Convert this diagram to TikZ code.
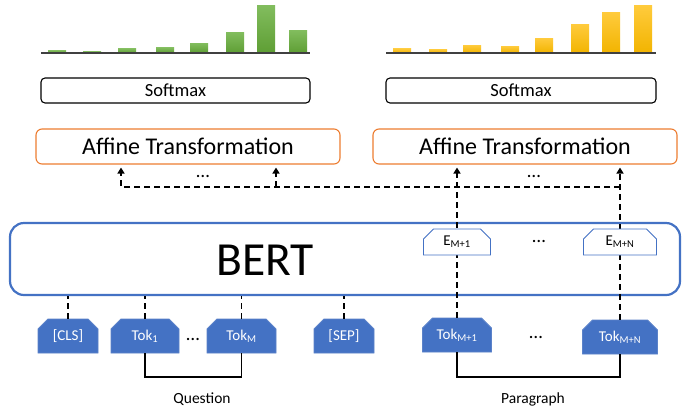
\documentclass[tikz,border=0pt]{standalone}
\usepackage{fontspec}
\setmainfont{Carlito}
\usetikzlibrary{shapes.misc,arrows.meta,calc}
\definecolor{tokblue}{HTML}{4472C4}
\definecolor{tokedge}{HTML}{5B82C9}
\definecolor{afforange}{HTML}{ED7D31}
\definecolor{gtop}{HTML}{82BD5E}
\definecolor{gbot}{HTML}{5E9E34}
\definecolor{ytop}{HTML}{FFCB3D}
\definecolor{ybot}{HTML}{F2B400}
\definecolor{axisgray}{HTML}{404040}
\tikzset{
  softbox/.style={draw=black, line width=1.1pt, rounded corners=4pt, minimum width=#1, minimum height=25pt, inner sep=0pt, font=\fontsize{18.5}{20}\selectfont},
  affbox/.style={draw=afforange, line width=1.1pt, rounded corners=6pt, minimum width=304pt, minimum height=35pt, inner sep=0pt, font=\fontsize{24}{26}\selectfont},
  bertbox/.style={draw=tokblue, line width=2.2pt, rounded corners=14pt, minimum width=670pt, minimum height=72pt, inner sep=0pt},
  ebox/.style={chamfered rectangle, chamfered rectangle corners={north east,north west}, chamfered rectangle xsep=5pt, chamfered rectangle ysep=5pt, draw=tokblue, fill=white, line width=0.9pt, minimum width=#1, minimum height=26pt, inner sep=0pt, font=\fontsize{15}{17}\selectfont},
  tokbox/.style={chamfered rectangle, chamfered rectangle corners={north east,north west}, chamfered rectangle xsep=5pt, chamfered rectangle ysep=5pt, draw=tokedge, fill=tokblue, line width=0.9pt, text=white, minimum width=#1, minimum height=34pt, inner sep=0pt, font=\fontsize{15}{17}\selectfont},
  dotsnode/.style={inner sep=0pt, font=\fontsize{19}{19}\selectfont},
  caption/.style={inner sep=0pt, font=\fontsize{15.5}{17}\selectfont},
  dashconn/.style={line width=1.5pt, dash pattern=on 6pt off 4pt},
  arrowconn/.style={dashconn, -{Triangle[width=7pt,length=6pt]}, shorten >=3pt},
  bracket/.style={line width=1.4pt, black},
  greenbar/.style={top color=gtop, bottom color=gbot, draw=none},
  yellowbar/.style={top color=ytop, bottom color=ybot, draw=none},
  axisline/.style={draw=axisgray, line width=1.4pt}
}
\begin{document}
\begin{tikzpicture}[x=1pt,y=-1pt]
\useasboundingbox[fill=white] (0,0) rectangle (682,408);

% bar charts
\foreach \x/\h in {48/2.8,83/2,118/4.5,156/5.5,190/10,226/21,257/48,289/23}
  \shade[greenbar] (\x,53) rectangle (\x+18,53-\h);
\draw[axisline] (41,53) -- (310,53);
\foreach \x/\h in {393/4.5,429/4,463/8,501/7,535/15,571/29,602/41,634/48}
  \shade[yellowbar] (\x,53) rectangle (\x+18,53-\h);
\draw[axisline] (386,53) -- (656,53);

% softmax and affine boxes
\node[softbox=269pt] (softL) at (175.5,90.5) {Softmax};
\node[softbox=270pt] (softR) at (521,90.5) {Softmax};
\node[affbox] (affL) at (188,146.5) {Affine Transformation};
\node[affbox] (affR) at (525,146.5) {Affine Transformation};
\node[dotsnode] (dotsAL) at (203,176) {…};
\node[dotsnode] (dotsAR) at (534,176) {…};

% BERT
\node[bertbox] (bert) at (345,259) {};
\node[inner sep=0pt, font=\fontsize{47.5}{52}\selectfont] (berttext) at (265,260) {BERT};

% tokens
\node[tokbox=60pt] (cls) at (68,336) {[CLS]};
\node[tokbox=68pt] (tok1) at (145,336) {Tok\textsubscript{1}};
\node[dotsnode] (dotsQ) at (193,339) {…};
\node[tokbox=69pt] (tokM) at (241.5,336) {Tok\textsubscript{M}};
\node[tokbox=60pt] (sep) at (344,336) {[SEP]};
\node[tokbox=69pt] (tokM1) at (457,335) {Tok\textsubscript{M+1}};
\node[dotsnode] (dotsP) at (536,337) {…};
\node[tokbox=75pt] (tokMN) at (620,337) {Tok\textsubscript{M+N}};

% connectors
\coordinate (hl) at (121,187);
\coordinate (hm) at (276,187);
\coordinate (py) at (0,377);
\foreach \n in {cls,tok1,tokM,sep}
  \draw[dashconn] (\n.north) -- (\n.north |- bert.south);
\draw[arrowconn] (tokM1.north) -- (tokM1.north |- affR.south);
\draw[arrowconn] (tokMN.north) -- (tokMN.north |- affR.south);
\draw[arrowconn] (tokMN.north |- hl) -- (hl) -- (hl |- affL.south);
\draw[arrowconn] (hm) -- (hm |- affL.south);

% E boxes drawn over the lines
\node[ebox=67pt] (eM1) at (457,242) {E\textsubscript{M+1}};
\node[dotsnode] (dotsE) at (539,241) {…};
\node[ebox=73pt] (eMN) at (620,242) {E\textsubscript{M+N}};

% brackets
\draw[bracket] (tok1.south) -- (tok1.south |- py) -- (tokM.south |- py) -- (tokM.south);
\draw[bracket] (tokM1.south) -- (tokM1.south |- py) -- (tokMN.south |- py) -- (tokMN.south);
\node[caption] (qlabel) at (202,399) {Question};
\node[caption] (plabel) at (533,399) {Paragraph};
\end{tikzpicture}
\end{document}
